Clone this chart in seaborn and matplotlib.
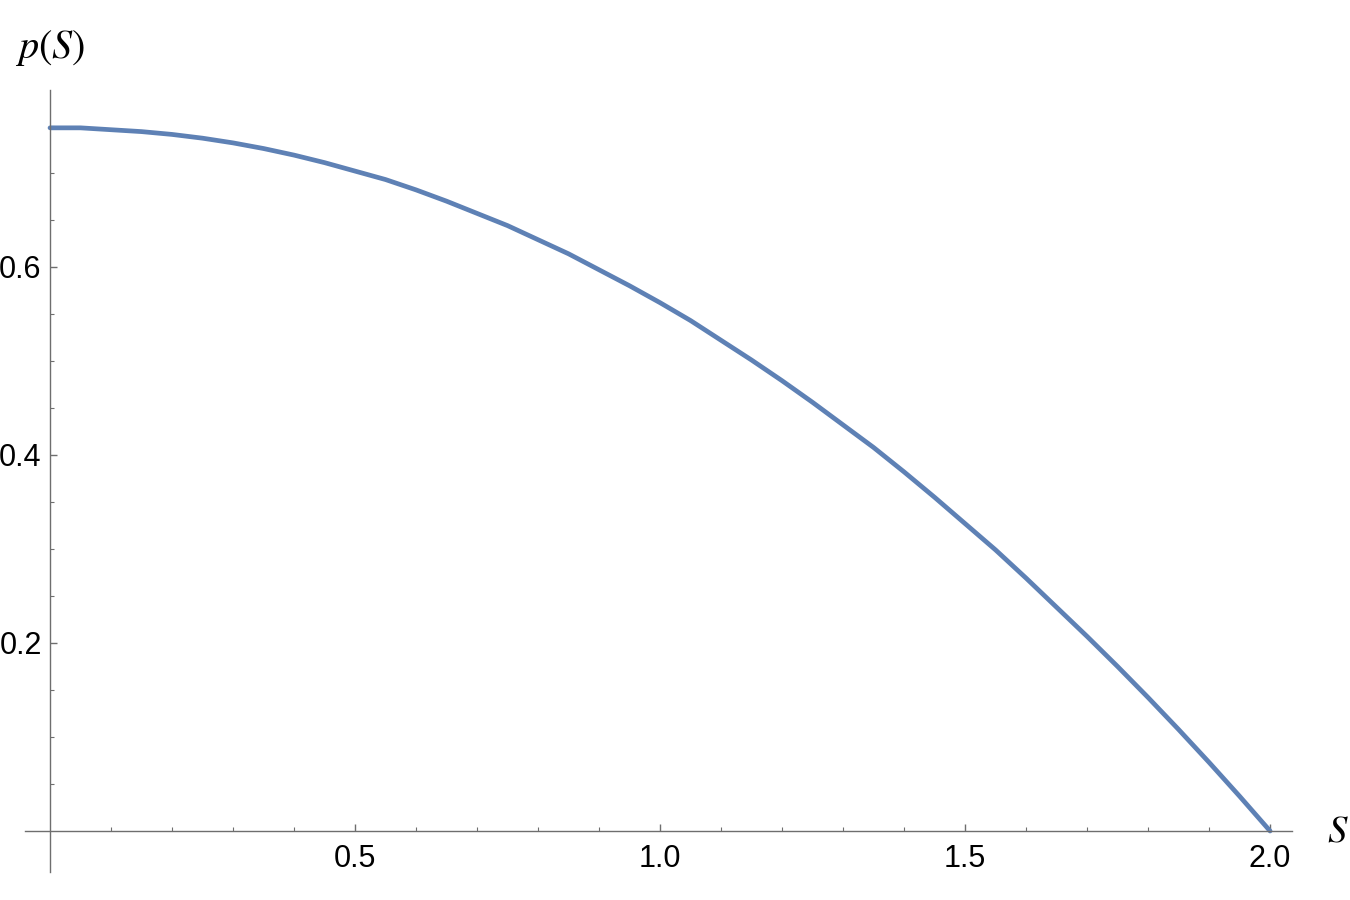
import matplotlib
matplotlib.use("Agg")
import matplotlib.pyplot as plt
import seaborn as sns
import pandas as pd
from matplotlib.ticker import FixedLocator

S_values = [0.00, 0.05, 0.10, 0.15, 0.20, 0.25, 0.30, 0.35, 0.40, 0.45,
            0.50, 0.55, 0.60, 0.65, 0.70, 0.75, 0.80, 0.85, 0.90, 0.95,
            1.00, 1.05, 1.10, 1.15, 1.20, 1.25, 1.30, 1.35, 1.40, 1.45,
            1.50, 1.55, 1.60, 1.65, 1.70, 1.75, 1.80, 1.85, 1.90, 1.95, 2.00]
p_values = [0.748, 0.748, 0.746, 0.744, 0.741, 0.737, 0.732, 0.726, 0.719, 0.711,
            0.702, 0.693, 0.682, 0.670, 0.657, 0.644, 0.629, 0.614, 0.597, 0.580,
            0.562, 0.543, 0.522, 0.501, 0.479, 0.456, 0.432, 0.408, 0.382, 0.355,
            0.327, 0.299, 0.269, 0.238, 0.207, 0.175, 0.142, 0.108, 0.073, 0.037, 0.000]
x_major = [0.5, 1.0, 1.5, 2.0]
x_minor = [0.1, 0.2, 0.3, 0.4, 0.6, 0.7, 0.8, 0.9, 1.1, 1.2, 1.3, 1.4, 1.6, 1.7, 1.8, 1.9]
y_major = [0.2, 0.4, 0.6]
y_minor = [0.05, 0.1, 0.15, 0.25, 0.3, 0.35, 0.45, 0.5, 0.55, 0.65, 0.7, 0.75]
x_ticklabels = ["0.5", "1.0", "1.5", "2.0"]
y_ticklabels = ["0.2", "0.4", "0.6"]

sns.set_style("white")
plt.rcParams["font.family"] = ["Liberation Sans", "DejaVu Sans"]
plt.rcParams["mathtext.fontset"] = "stix"

df = pd.DataFrame({"S": S_values, "p": p_values})

fig = plt.figure(figsize=(13.5, 9), dpi=100)
ax = fig.add_axes([0, 0, 1, 1])
ax.patch.set_alpha(0)

sns.lineplot(data=df, x="S", y="p", ax=ax, color="#5E81B5", linewidth=3.4,
             solid_capstyle="round", solid_joinstyle="round")

ax.set_xlim(-0.082, 2.131)
ax.set_ylim(-0.0734, 0.884)

axis_color = "#6e6e6e"
for side in ["top", "right"]:
    ax.spines[side].set_visible(False)
ax.spines["left"].set_position(("data", 0))
ax.spines["bottom"].set_position(("data", 0))
ax.spines["left"].set_bounds(-0.0436, 0.788)
ax.spines["bottom"].set_bounds(-0.041, 2.036)
for side in ["left", "bottom"]:
    ax.spines[side].set_color(axis_color)
    ax.spines[side].set_linewidth(1.0)

ax.xaxis.set_major_locator(FixedLocator(x_major))
ax.xaxis.set_minor_locator(FixedLocator(x_minor))
ax.yaxis.set_major_locator(FixedLocator(y_major))
ax.yaxis.set_minor_locator(FixedLocator(y_minor))
ax.set_xticklabels(x_ticklabels)
ax.set_yticklabels(y_ticklabels)

ax.tick_params(axis="both", which="major", direction="in", length=5, width=1.0,
               color=axis_color, labelsize=22, labelcolor="black")
ax.tick_params(axis="both", which="minor", direction="in", length=3, width=0.8,
               color=axis_color)
ax.tick_params(axis="x", which="major", pad=9)
ax.tick_params(axis="y", which="major", pad=6)
ax.tick_params(axis="both", which="both", bottom=True, left=True)

ax.set_xlabel("")
ax.set_ylabel("")

ax.text(0, 0.833, r"$p(S)$", fontsize=29, ha="center", va="center", color="black")
ax.text(2.111, 0.0, r"$S$", fontsize=28, ha="center", va="center", color="black")

fig.savefig("out.png", dpi=100)
